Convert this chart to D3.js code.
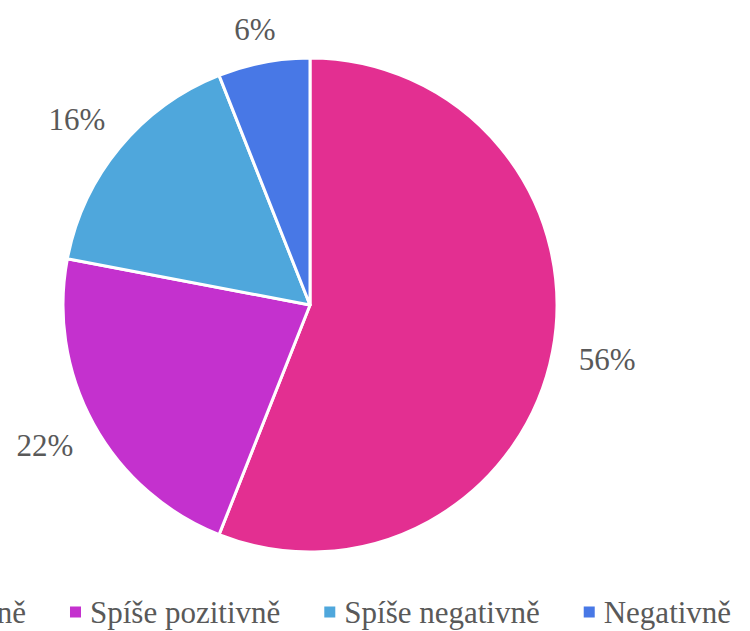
<!DOCTYPE html>
<html>
<head>
<meta charset="utf-8">
<script src="https://cdn.jsdelivr.net/npm/d3@7"></script>
<style>
  html, body { margin: 0; padding: 0; background: #fff; }
  svg { display: block; }
</style>
</head>
<body>
<svg id="chart" width="750" height="631"></svg>
<script>
// Survey answers and their shares (%)
const categories = ["Pozitivně", "Spíše pozitivně", "Spíše negativně", "Negativně"];
const values = [56, 22, 16, 6];
const colors = ["#E32F91", "#C431CE", "#4FA7DC", "#4878E6"];

const W = 750, H = 631;
const cx = 310, cy = 305, R = 247;
const fontFamily = '"Liberation Serif", "Times New Roman", serif';
const textColor = "#595959";
const fontSize = 31;

const svg = d3.select("#chart");
const data = categories.map((c, i) => ({ cat: c, value: values[i], color: colors[i] }));

const pie = d3.pie().value(d => d.value).sort(null);
const arc = d3.arc().innerRadius(0).outerRadius(R);
const arcs = pie(data);

const g = svg.append("g").attr("transform", `translate(${cx},${cy})`);

g.selectAll("path.slice")
  .data(arcs)
  .join("path")
  .attr("class", "slice")
  .attr("d", arc)
  .attr("fill", d => d.data.color)
  .attr("stroke", "#fff")
  .attr("stroke-width", 3)
  .attr("stroke-linejoin", "round");

// Percentage labels placed just outside each slice, kept inside the chart top
const labelGap = 27;
const minTop = 12;
const labels = g.selectAll("text.lbl")
  .data(arcs)
  .join("text")
  .attr("class", "lbl")
  .style("font-family", fontFamily)
  .attr("font-size", fontSize)
  .attr("fill", textColor)
  .attr("text-anchor", "middle")
  .attr("dominant-baseline", "central")
  .text(d => d.data.value + "%");

labels.each(function(d) {
  const bb = this.getBBox();
  const a = (d.startAngle + d.endAngle) / 2;
  const dx = Math.sin(a), dy = -Math.cos(a);
  const r = R + labelGap;
  const x = dx * r + dx * bb.width / 2;
  let y = dy * r + dy * bb.height / 2;
  y = Math.max(y, minTop - cy + bb.height / 2);
  d3.select(this).attr("x", x).attr("y", y);
});

// Legend row along the bottom, centred under the pie
const legendY = 612;
const marker = 11, markerGap = 9, itemGap = 44;
const legend = svg.append("g");
const items = legend.selectAll("g.item")
  .data(data)
  .join("g")
  .attr("class", "item");

items.append("rect")
  .attr("width", marker)
  .attr("height", marker)
  .attr("y", -marker / 2)
  .attr("fill", d => d.color);

items.append("text")
  .attr("x", marker + markerGap)
  .attr("dominant-baseline", "central")
  .style("font-family", fontFamily)
  .attr("font-size", fontSize)
  .attr("fill", textColor)
  .text(d => d.cat);

let offset = 0;
const positions = [];
items.each(function() {
  const w = this.getBBox().width;
  positions.push(offset);
  offset += w + itemGap;
});
const totalW = offset - itemGap;
const startX = cx - totalW / 2;
items.attr("transform", (d, i) => `translate(${startX + positions[i]},${legendY})`);
</script>
</body>
</html>
